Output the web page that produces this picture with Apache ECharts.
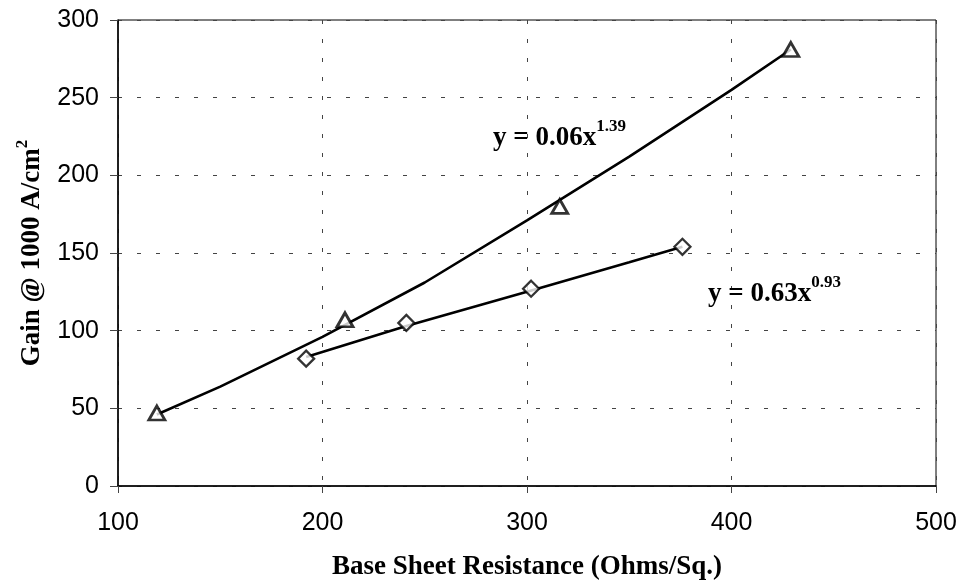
<!DOCTYPE html>
<html>
<head>
<meta charset="utf-8">
<script src="https://cdn.jsdelivr.net/npm/echarts@6/dist/echarts.min.js"></script>
<style>html,body{margin:0;padding:0;background:#fff}#c{width:962px;height:586px}</style>
</head>
<body>
<div id="c"></div>
<script>
// Data
const triX = [119, 211, 316, 429];
const triY = [47, 107, 180, 281];
const diaX = [192, 241, 302, 376];
const diaY = [82, 105, 127, 154];
// Trendline samples
const triTrendX = [119, 150, 200, 250, 300, 350, 400, 429];
const triTrendY = [46, 64, 96, 131, 171, 212, 255, 281];
const diaTrendX = [192, 241, 300, 350, 376];
const diaTrendY = [83, 103, 125, 144, 154];
const xTicks = [100, 200, 300, 400, 500];
const yTicks = [0, 50, 100, 150, 200, 250, 300];
const eqTri = ['y = 0.06x', '1.39'];
const eqDia = ['y = 0.63x', '0.93'];
const xTitle = 'Base Sheet Resistance (Ohms/Sq.)';
const yTitle = ['Gain @ 1000 A/cm', '2'];

const zip = (a, b) => a.map((v, i) => [v, b[i]]);
const serif = '"Liberation Serif", "Times New Roman", serif';
const sans = '"Liberation Sans", Arial, sans-serif';

const chart = echarts.init(document.getElementById('c'), null, {renderer: 'canvas'});
const gridLine = {show: true, lineStyle: {color: '#444', width: 1, type: [4, 15]}};
const eqRich = {
  m: {fontFamily: serif, fontWeight: 'bold', fontSize: 27, fill: '#000', lineHeight: 34, verticalAlign: 'bottom'},
  s: {fontFamily: serif, fontWeight: 'bold', fontSize: 17, fill: '#000', lineHeight: 17, verticalAlign: 'top'}
};
chart.setOption({
  animation: false,
  backgroundColor: '#fff',
  grid: {left: 118, right: 26, top: 20, bottom: 100, show: true, borderColor: '#000', borderWidth: 1, backgroundColor: 'transparent'},
  xAxis: {
    type: 'value', min: xTicks[0], max: xTicks[xTicks.length - 1], interval: 100,
    axisLine: {show: true, onZero: false, lineStyle: {color: '#000', width: 1.5}},
    axisTick: {show: true, inside: false, length: 7, lineStyle: {color: '#444', width: 1}},
    axisLabel: {color: '#000', fontFamily: sans, fontSize: 25, margin: 25},
    splitLine: gridLine,
    name: xTitle, nameLocation: 'middle', nameGap: 68,
    nameTextStyle: {fontFamily: serif, fontWeight: 'bold', fontSize: 27, color: '#000'}
  },
  yAxis: {
    type: 'value', min: yTicks[0], max: yTicks[yTicks.length - 1], interval: 50,
    axisLine: {show: true, onZero: false, lineStyle: {color: '#000', width: 1.5}},
    axisTick: {show: true, inside: false, length: 8, lineStyle: {color: '#444', width: 1}},
    axisLabel: {color: '#000', fontFamily: sans, fontSize: 25, margin: 19},
    splitLine: gridLine,
    name: '{m|' + yTitle[0] + '}{s|' + yTitle[1] + '}', nameLocation: 'middle', nameGap: 72,
    nameTextStyle: {
      rich: {
        m: {fontFamily: serif, fontWeight: 'bold', fontSize: 27, color: '#000', lineHeight: 32, verticalAlign: 'bottom'},
        s: {fontFamily: serif, fontWeight: 'bold', fontSize: 17, color: '#000', lineHeight: 17, verticalAlign: 'top'}
      }
    }
  },
  series: [
    {type: 'line', data: zip(triTrendX, triTrendY), showSymbol: false, symbol: 'none',
     lineStyle: {color: '#000', width: 2.6}, z: 2, silent: true},
    {type: 'line', data: zip(diaTrendX, diaTrendY), showSymbol: false, symbol: 'none',
     lineStyle: {color: '#000', width: 2.6}, z: 2, silent: true},
    {type: 'scatter', data: zip(triX, triY), symbol: 'triangle', symbolSize: [16, 14],
     itemStyle: {color: '#fff', borderColor: '#000', borderWidth: 2.8}, z: 3},
    {type: 'scatter', data: zip(diaX, diaY), symbol: 'diamond', symbolSize: [16, 16],
     itemStyle: {color: '#fff', borderColor: '#000', borderWidth: 2.3}, z: 3}
  ],
  graphic: [
    {type: 'text', left: 493, top: 118, z: 10, style: {
      text: '{m|' + eqTri[0] + '}{s|' + eqTri[1] + '}', rich: eqRich}},
    {type: 'text', left: 708, top: 274, z: 10, style: {
      text: '{m|' + eqDia[0] + '}{s|' + eqDia[1] + '}', rich: eqRich}}
  ]
});
</script>
</body>
</html>
